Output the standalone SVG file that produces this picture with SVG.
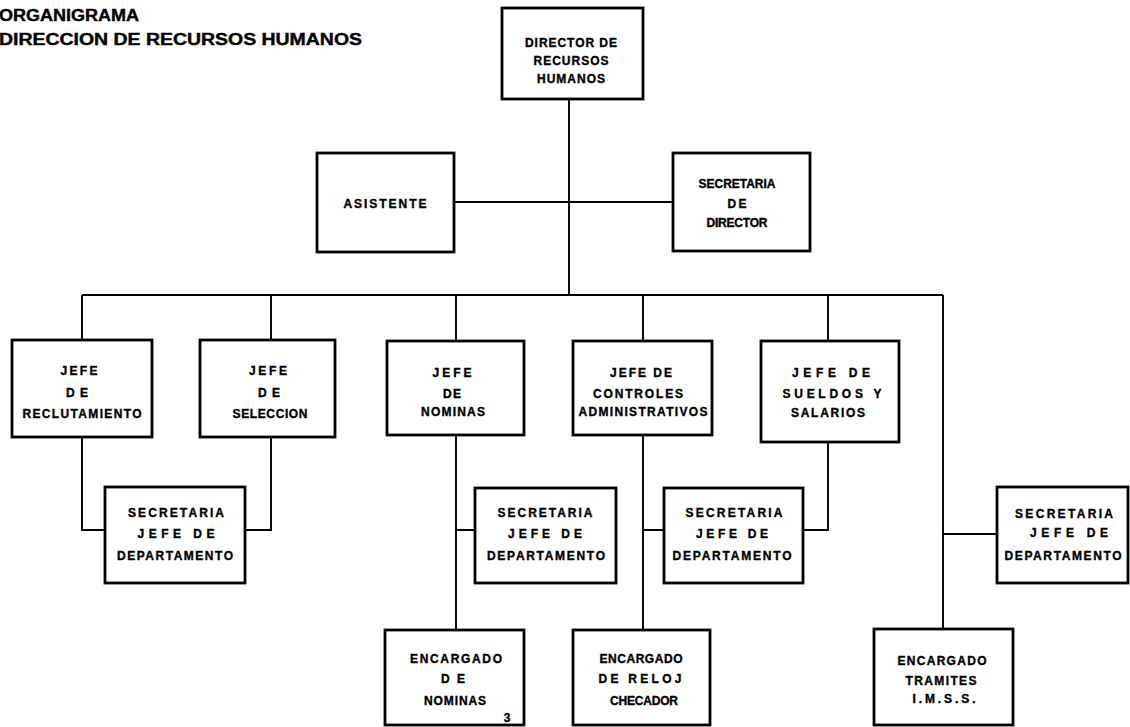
<svg xmlns="http://www.w3.org/2000/svg" width="1130" height="727" viewBox="0 0 1130 727">
<style>
.box{fill:#fff;stroke:#000;stroke-width:2.8}
.ln{fill:none;stroke:#000;stroke-width:1.9}
.t{font-family:"Liberation Sans",Arial,sans-serif;font-weight:bold;font-size:12px;fill:#000;stroke:#000;stroke-width:0.35;text-anchor:middle}
.h{font-family:"Liberation Sans",Arial,sans-serif;font-weight:bold;font-size:16px;fill:#000;stroke:#000;stroke-width:0.4}
</style>
<rect width="1130" height="727" fill="#fff"/>
<g id="title">
<text class="h" x="-1" y="21" textLength="140" lengthAdjust="spacingAndGlyphs">ORGANIGRAMA</text>
<text class="h" x="-1" y="45" textLength="363" lengthAdjust="spacingAndGlyphs">DIRECCION  DE RECURSOS HUMANOS</text>
</g>
<g id="connectors">
<path class="ln" d="M569 99V295M454 202H673M82 295H943M82 295V340M271 295V340M456 295V341M643 295V341M828 295V341M943 295V629"/>
<path class="ln" d="M82 437V530H105M271 437V530H245M456 435V630M456 530H475M643 435V630M643 530H664M828 442V530H803M943 534H997"/>
</g>
<g id="director">
<rect class="box" x="502" y="8" width="141" height="91"/>
<text class="t" x="571" y="47" textLength="92" lengthAdjust="spacing">DIRECTOR DE</text>
<text class="t" x="571" y="65" textLength="75" lengthAdjust="spacing">RECURSOS</text>
<text class="t" x="571" y="83" textLength="68" lengthAdjust="spacing">HUMANOS</text>
</g>
<g id="asistente">
<rect class="box" x="317" y="153" width="137" height="99"/>
<text class="t" x="385" y="208" textLength="83" lengthAdjust="spacing">ASISTENTE</text>
</g>
<g id="secretaria-director">
<rect class="box" x="673" y="153" width="137" height="98"/>
<text class="t" x="737" y="188" textLength="77" lengthAdjust="spacing">SECRETARIA</text>
<text class="t" x="737" y="208" textLength="19" lengthAdjust="spacing">DE</text>
<text class="t" x="737" y="227" textLength="61" lengthAdjust="spacing">DIRECTOR</text>
</g>
<g id="jefe-reclutamiento">
<rect class="box" x="12" y="340" width="140" height="97"/>
<text class="t" x="79" y="375" textLength="37" lengthAdjust="spacing">JEFE</text>
<text class="t" x="77" y="397" textLength="22" lengthAdjust="spacing">DE</text>
<text class="t" x="82" y="418" textLength="119" lengthAdjust="spacing">RECLUTAMIENTO</text>
</g>
<g id="jefe-seleccion">
<rect class="box" x="200" y="340" width="135" height="97"/>
<text class="t" x="268" y="375" textLength="38" lengthAdjust="spacing">JEFE</text>
<text class="t" x="269" y="397" textLength="22" lengthAdjust="spacing">DE</text>
<text class="t" x="270" y="418" textLength="75" lengthAdjust="spacing">SELECCION</text>
</g>
<g id="jefe-nominas">
<rect class="box" x="387" y="341" width="137" height="94"/>
<text class="t" x="452" y="377" textLength="39" lengthAdjust="spacing">JEFE</text>
<text class="t" x="452" y="398" textLength="18" lengthAdjust="spacing">DE</text>
<text class="t" x="453" y="416" textLength="64" lengthAdjust="spacing">NOMINAS</text>
</g>
<g id="jefe-controles">
<rect class="box" x="573" y="341" width="139" height="94"/>
<text class="t" x="641" y="377" textLength="62" lengthAdjust="spacing">JEFE DE</text>
<text class="t" x="638" y="398" textLength="90" lengthAdjust="spacing">CONTROLES</text>
<text class="t" x="643" y="416" textLength="129" lengthAdjust="spacing">ADMINISTRATIVOS</text>
</g>
<g id="jefe-sueldos">
<rect class="box" x="761" y="341" width="138" height="101"/>
<text class="t" x="831" y="377" textLength="78" lengthAdjust="spacing">JEFE   DE</text>
<text class="t" x="832" y="398" textLength="99" lengthAdjust="spacing">SUELDOS   Y</text>
<text class="t" x="828" y="417" textLength="74" lengthAdjust="spacing">SALARIOS</text>
</g>
<g id="secretaria-1">
<rect class="box" x="105" y="487" width="140" height="96"/>
<text class="t" x="176" y="517" textLength="96" lengthAdjust="spacing">SECRETARIA</text>
<text class="t" x="176" y="538" textLength="77" lengthAdjust="spacing">JEFE   DE</text>
<text class="t" x="175" y="560" textLength="116" lengthAdjust="spacing">DEPARTAMENTO</text>
</g>
<g id="secretaria-2">
<rect class="box" x="475" y="488" width="141" height="95"/>
<text class="t" x="545" y="517" textLength="95" lengthAdjust="spacing">SECRETARIA</text>
<text class="t" x="545" y="538" textLength="74" lengthAdjust="spacing">JEFE   DE</text>
<text class="t" x="546" y="560" textLength="118" lengthAdjust="spacing">DEPARTAMENTO</text>
</g>
<g id="secretaria-3">
<rect class="box" x="664" y="488" width="139" height="95"/>
<text class="t" x="734" y="517" textLength="97" lengthAdjust="spacing">SECRETARIA</text>
<text class="t" x="732" y="538" textLength="72" lengthAdjust="spacing">JEFE  DE</text>
<text class="t" x="732" y="560" textLength="119" lengthAdjust="spacing">DEPARTAMENTO</text>
</g>
<g id="secretaria-4">
<rect class="box" x="997" y="487" width="131" height="96"/>
<text class="t" x="1064" y="518" textLength="98" lengthAdjust="spacing">SECRETARIA</text>
<text class="t" x="1069" y="537" textLength="78" lengthAdjust="spacing">JEFE   DE</text>
<text class="t" x="1063" y="560" textLength="117" lengthAdjust="spacing">DEPARTAMENTO</text>
</g>
<g id="encargado-nominas">
<rect class="box" x="385" y="630" width="139" height="95"/>
<text class="t" x="456" y="663" textLength="92" lengthAdjust="spacing">ENCARGADO</text>
<text class="t" x="453" y="683" textLength="24" lengthAdjust="spacing">DE</text>
<text class="t" x="455" y="705" textLength="62" lengthAdjust="spacing">NOMINAS</text>
<text class="t" x="507" y="722">3</text>
</g>
<g id="encargado-reloj">
<rect class="box" x="573" y="630" width="137" height="95"/>
<text class="t" x="641" y="663" textLength="83" lengthAdjust="spacing">ENCARGADO</text>
<text class="t" x="640" y="683" textLength="83" lengthAdjust="spacing">DE  RELOJ</text>
<text class="t" x="644" y="705" textLength="68" lengthAdjust="spacing">CHECADOR</text>
</g>
<g id="encargado-tramites">
<rect class="box" x="874" y="629" width="139" height="96"/>
<text class="t" x="942" y="665" textLength="89" lengthAdjust="spacing">ENCARGADO</text>
<text class="t" x="941" y="685" textLength="71" lengthAdjust="spacing">TRAMITES</text>
<text class="t" x="944" y="703" textLength="63" lengthAdjust="spacing">I.M.S.S.</text>
</g>
</svg>
